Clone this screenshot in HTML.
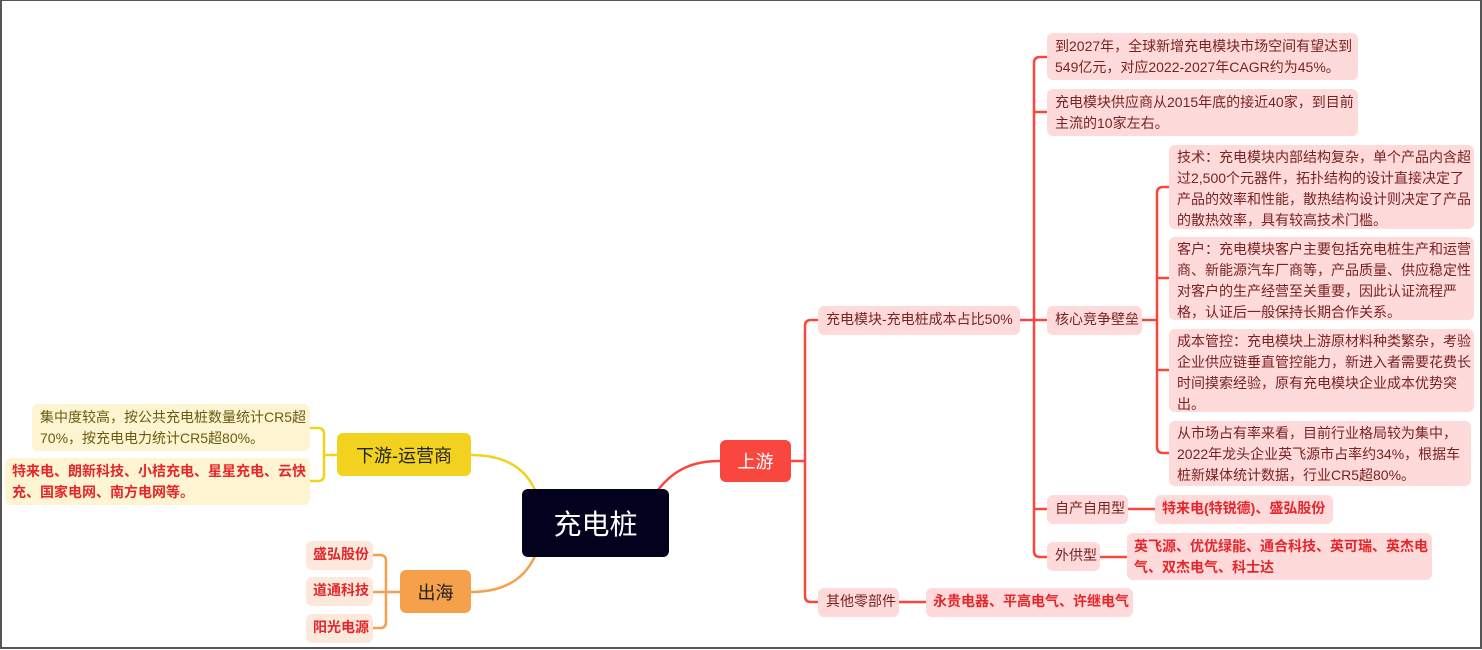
<!DOCTYPE html>
<html><head><meta charset="utf-8"><style>
html,body{margin:0;padding:0;}
body{width:1482px;height:650px;position:relative;overflow:hidden;background:#fff;font-family:"Liberation Sans","Noto Sans CJK SC",sans-serif;}
.frame{position:absolute;left:0;top:0;width:1478px;height:646px;border:2px solid #555;border-top-width:1px;}
.n{position:absolute;box-sizing:border-box;border-radius:6px;white-space:nowrap;}
.p{background:#ffdada;color:#7a2222;font-size:14px;line-height:21px;padding:3px 8px;}
.r{background:#ffdada;color:#e5262b;font-size:14px;line-height:21px;padding:3px 7px;font-weight:bold;}
.c{display:flex;align-items:center;justify-content:center;}
svg{position:absolute;left:0;top:0;}
</style></head><body>
<div class="frame"></div>
<svg width="1482" height="650" fill="none">
<g stroke="#f9463e" stroke-width="2.5">
<path d="M658 490 C675 468 695 461 720 461"/>
<path d="M791 461 H805"/>
<path d="M818 320 H811 Q805 320 805 326 V596 Q805 602 811 602 H818"/>
<path d="M1020 320 H1047"/>
<path d="M1047 57 H1040 Q1034 57 1034 63 V551 Q1034 557 1040 557 H1047"/>
<path d="M1034 112 H1047 M1034 509 H1047"/>
<path d="M1142 320 H1157"/>
<path d="M1169 187 H1163 Q1157 187 1157 193 V447 Q1157 453 1163 453 H1169"/>
<path d="M1157 278 H1169 M1157 370 H1169"/>
<path d="M1128 509 H1155 M1100 557 H1127 M899 602 H926"/>
</g>
<g stroke="#f2d21e" stroke-width="2.5">
<path d="M535 490 C525 468 505 455 471 455"/>
<path d="M337 455 H324"/>
<path d="M310 428 H318 Q324 428 324 434 V475 Q324 481 318 481 H310"/>
</g>
<g stroke="#f5a04a" stroke-width="2.5">
<path d="M535 556 C525 578 505 592 471 592"/>
<path d="M400 592 H373"/>
<path d="M373 555 H380 Q386 555 386 561 V622 Q386 628 380 628 H373"/>
</g>
</svg>
<div class="n c" style="left:522px;top:489px;width:147px;height:68px;background:#02021f;color:#fff;font-size:28px;">充电桩</div>
<div class="n c" style="left:720px;top:440px;width:71px;height:42px;background:#f9463e;color:#fff;font-size:18px;">上游</div>
<div class="n c" style="left:337px;top:433px;width:134px;height:43px;background:#f2d21e;color:#222;font-size:18px;">下游-运营商</div>
<div class="n c" style="left:400px;top:570px;width:71px;height:43px;background:#f5a04a;color:#222;font-size:18px;">出海</div>

<div class="n p" style="left:818px;top:306px;width:202px;height:29px;">充电模块-充电桩成本占比50%</div>
<div class="n p" style="left:1047px;top:306px;width:95px;height:29px;">核心竞争壁垒</div>
<div class="n p" style="left:1047px;top:495px;width:81px;height:29px;">自产自用型</div>
<div class="n p" style="left:1047px;top:542px;width:53px;height:29px;">外供型</div>
<div class="n p" style="left:818px;top:588px;width:81px;height:29px;">其他零部件</div>
<div class="n r" style="left:926px;top:588px;width:207px;height:29px;">永贵电器、平高电气、许继电气</div>
<div class="n r" style="left:1155px;top:495px;width:178px;height:29px;">特来电(特锐德)、盛弘股份</div>
<div class="n r" style="left:1127px;top:533px;width:305px;height:47px;">英飞源、优优绿能、通合科技、英可瑞、英杰电<br>气、双杰电气、科士达</div>

<div class="n p" style="left:1047px;top:33px;width:311px;height:47px;">到2027年，全球新增充电模块市场空间有望达到<br>549亿元，对应2022-2027年CAGR约为45%。</div>
<div class="n p" style="left:1047px;top:89px;width:311px;height:47px;">充电模块供应商从2015年底的接近40家，到目前<br>主流的10家左右。</div>
<div class="n p" style="left:1169px;top:145px;width:305px;height:84px;padding-top:2px;">技术：充电模块内部结构复杂，单个产品内含超<br>过2,500个元器件，拓扑结构的设计直接决定了<br>产品的效率和性能，散热结构设计则决定了产品<br>的散热效率，具有较高技术门槛。</div>
<div class="n p" style="left:1169px;top:237px;width:305px;height:83px;padding-top:2px;">客户：充电模块客户主要包括充电桩生产和运营<br>商、新能源汽车厂商等，产品质量、供应稳定性<br>对客户的生产经营至关重要，因此认证流程严<br>格，认证后一般保持长期合作关系。</div>
<div class="n p" style="left:1169px;top:329px;width:305px;height:83px;padding-top:2px;">成本管控：充电模块上游原材料种类繁杂，考验<br>企业供应链垂直管控能力，新进入者需要花费长<br>时间摸索经验，原有充电模块企业成本优势突<br>出。</div>
<div class="n p" style="left:1169px;top:421px;width:302px;height:65px;padding-top:2px;">从市场占有率来看，目前行业格局较为集中，<br>2022年龙头企业英飞源市占率约34%，根据车<br>桩新媒体统计数据，行业CR5超80%。</div>

<div class="n p" style="left:32px;top:404px;width:278px;height:47px;background:#fdf5d2;color:#6b5a10;">集中度较高，按公共充电桩数量统计CR5超<br>70%，按充电电力统计CR5超80%。</div>
<div class="n r" style="left:5px;top:458px;width:305px;height:47px;background:#fdf5d2;">特来电、朗新科技、小桔充电、星星充电、云快<br>充、国家电网、南方电网等。</div>

<div class="n r" style="left:306px;top:541px;width:67px;height:29px;background:#fde8dc;">盛弘股份</div>
<div class="n r" style="left:306px;top:577px;width:67px;height:29px;background:#fde8dc;">道通科技</div>
<div class="n r" style="left:306px;top:614px;width:67px;height:29px;background:#fde8dc;">阳光电源</div>
</body></html>
